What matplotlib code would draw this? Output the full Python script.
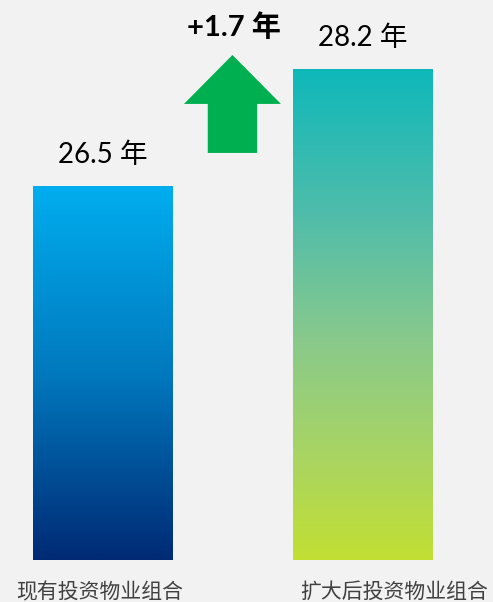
import numpy as np
import matplotlib
matplotlib.use('Agg')
import matplotlib.pyplot as plt
from matplotlib.colors import LinearSegmentedColormap
from matplotlib.patches import FancyArrow

# chart data
categories = ['现有投资物业组合', '扩大后投资物业组合']
values = [26.5, 28.2]
value_labels = ['26.5 年', '28.2 年']
change_label = '+1.7 年'

# gradient stops (top -> bottom)
grad_stops = [
    [(0.0, '#00AEEF'), (0.5, '#0079BE'), (1.0, '#002A74')],
    [(0.0, '#0EB8BA'), (0.3, '#50BDAA'), (0.55, '#88C98C'), (0.8, '#AAD560'), (1.0, '#C2DF33')],
]

bg = '#F2F2F2'
fonts = ['Lato', 'Noto Sans CJK SC', 'DejaVu Sans']
base = 21.066

fig = plt.figure(figsize=(4.93, 6.02), dpi=100, facecolor=bg)
ax = fig.add_axes([0, 42 / 602, 1, 560 / 602])
ax.set_facecolor(bg)
ax.axis('off')

x = np.arange(len(values))
bars = ax.bar(x, np.array(values) - base, width=0.535, bottom=base, color='none')

# fill each bar with a vertical gradient
grad = np.linspace(0, 1, 256).reshape(-1, 1)
for bar, stops in zip(bars, grad_stops):
    cmap = LinearSegmentedColormap.from_list('g', stops)
    x0, y0 = bar.get_x(), bar.get_y()
    w, h = bar.get_width(), bar.get_height()
    im = ax.imshow(grad, cmap=cmap, aspect='auto', extent=[x0, x0 + w, y0, y0 + h],
                   origin='upper', vmin=0, vmax=1)
    im.set_clip_path(bar)

ax.set_xlim(-0.394, 1.502)
ax.set_ylim(base, 29.202)

# value labels above bars
for xi, v, lab in zip(x, values, value_labels):
    ax.annotate(lab, (xi, v), xytext=(0, 22), textcoords='offset points',
                ha='center', va='center', fontsize=20, family=fonts, color='black')

# green arrow showing the increase
mid = (x[0] + x[1]) / 2
arrow_base = values[0] + 0.48
arrow_tip = values[1] + 0.203
arr = FancyArrow(mid, arrow_base, 0, arrow_tip - arrow_base, width=0.19,
                 head_width=0.373, head_length=0.711, length_includes_head=True,
                 color='#00B050', linewidth=0)
ax.add_patch(arr)
ax.annotate(change_label, (mid, arrow_tip), xytext=(1, 20), textcoords='offset points',
            ha='center', va='center', fontsize=21, fontweight='bold', family=fonts)

# category labels
label_x = [x[0] - 0.01, x[1] + 0.12]
for lx, cat in zip(label_x, categories):
    fig.text((lx + 0.394) / 1.896, 10 / 602, cat, ha='center', va='center',
             fontsize=15, family=fonts, color='#404040')

fig.savefig('out.png', dpi=100, facecolor=bg)
